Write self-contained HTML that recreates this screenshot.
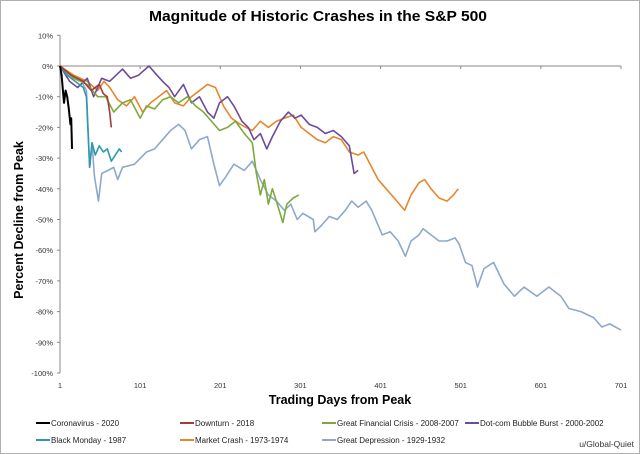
<!DOCTYPE html>
<html><head><meta charset="utf-8"><style>
body{margin:0;background:#fff;}
svg{display:block;font-family:"Liberation Sans",sans-serif;}
</style></head><body>
<svg id="c" width="640" height="454">
<rect x="0.5" y="0.5" width="639" height="453" fill="#fff" stroke="#b0b0b0"/>
<text x="318" y="21" text-anchor="middle" font-size="14.5" font-weight="bold" textLength="338" lengthAdjust="spacingAndGlyphs">Magnitude of Historic Crashes in the S&amp;P 500</text>
<text transform="translate(23,220) rotate(-90)" text-anchor="middle" font-size="12.5" font-weight="bold">Percent Decline from Peak</text>
<text x="340" y="404" text-anchor="middle" font-size="12.5" font-weight="bold">Trading Days from Peak</text>
<text x="634" y="447" text-anchor="end" font-size="8.5" fill="#333">u/Global-Quiet</text>
<g id="axes"></g><g id="series"></g><g id="legend"></g>
</svg>
<script>
const yTicks=[10,0,-10,-20,-30,-40,-50,-60,-70,-80,-90,-100];
const xTicks=[1,101,201,301,401,501,601,701];
const gdDays=[1,13,28,34,38,41,44,49,53,61,68,73,79,94,109,119,129,139,149,157,165,175,185,193,200,208,218,231,241,251,261,271,281,289,297,304,317,319,327,337,347,357,365,373,383,390,403,413,423,432,439,449,454,464,474,484,494,499,507,515,522,530,542,555,568,580,596,611,626,636,651,667,677,687,701];
const gdVals=[0,-3,-5,-8,-33,-25,-36,-44,-35,-34,-33,-37,-33,-32,-28,-27,-24,-21,-19,-21,-27,-24,-23,-32,-39,-36,-32,-34,-31,-37,-42,-44,-47,-45,-50,-48,-50,-54,-52,-49,-50,-47,-44,-46,-44,-47,-55,-54,-57,-62,-57,-55,-53,-55,-57,-57,-56,-58,-64,-65,-72,-66,-64,-71,-75,-72,-75,-72,-75,-79,-80,-82,-85,-84,-86];
const mcDays=[1,18,35,48,56,63,73,84,94,104,114,124,134,144,155,165,175,185,195,205,215,226,233,241,251,261,271,281,292,302,312,322,332,342,352,362,373,380,388,398,408,418,431,439,449,456,464,474,484,492,498];
const mcVals=[0,-3,-5,-8,-5,-7,-11,-13,-10,-15,-12,-10,-8,-12,-13,-10,-8,-6,-7,-13,-17,-19,-20,-21,-18,-20,-18,-17,-16,-20,-22,-24,-25,-23,-24,-28,-29,-28,-32,-37,-40,-43,-47,-42,-38,-37,-40,-43,-44,-42,-40];
const dcDays=[1,13,23,35,43,53,63,79,89,99,112,122,129,137,144,155,165,175,185,193,200,210,218,228,236,243,251,259,266,276,286,294,302,312,322,332,342,352,362,368,373];
const dcVals=[0,-5,-7,-4,-10,-4,-5,-1,-4,-3,0,-3,-5,-7,-10,-6,-12,-10,-15,-17,-12,-10,-13,-18,-20,-24,-22,-27,-23,-18,-15,-17,-16,-19,-20,-22,-21,-23,-26,-35,-34];
const gfcDays=[1,18,35,48,58,68,79,89,101,109,119,129,139,149,160,170,180,190,200,210,220,231,241,246,251,256,261,266,271,279,284,292,299];
const gfcVals=[0,-4,-6,-10,-10,-15,-12,-11,-17,-13,-14,-11,-10,-12,-10,-13,-15,-18,-21,-20,-18,-22,-25,-35,-42,-37,-45,-40,-44,-51,-45,-43,-42];
const bmDays=[1,10,20,30,34,38,41,45,50,55,60,65,70,75,78];
const bmVals=[0,-3,-5,-7,-10,-33,-25,-29,-26,-28,-27,-31,-29,-27,-28];
const dtDays=[1,15,30,40,50,55,60,63,65];
const dtVals=[0,-3,-5,-8,-6,-9,-10,-15,-20];
const cvDays=[1,3,6,8,10,12,14,15,16];
const cvVals=[0,-3,-12,-8,-10,-14,-19,-17,-27];
const NS='http://www.w3.org/2000/svg';
const xs=d=>60+(d-1)*(561/700);
const ys=v=>66-v*3.07;
const ax=document.getElementById('axes');
function mk(tag,at,parent){const e=document.createElementNS(NS,tag);for(const k in at)e.setAttribute(k,at[k]);parent.appendChild(e);return e;}
let yl=mk('line',{x1:60,y1:ys(10),x2:60,y2:ys(-100),stroke:'#888'},ax);


let xl=mk('line',{x1:60,y1:ys(0),x2:621,y2:ys(0),stroke:'#888'},ax);


yTicks.forEach(v=>{
  mk('line',{x1:57,y1:ys(v),x2:60,y2:ys(v),stroke:'#888'},ax);
  const t=mk('text',{x:53,y:ys(v)+3,'text-anchor':'end','font-size':'7.5',fill:'#333'},ax);
  t.textContent=v+'%';
  
  
});
xTicks.forEach(d=>{
  mk('line',{x1:xs(d),y1:ys(0),x2:xs(d),y2:ys(0)+3,stroke:'#888'},ax);
  const t=mk('text',{x:xs(d),y:388,'text-anchor':'middle','font-size':'7.5',fill:'#333'},ax);
  t.textContent=d;
  
  
});
const sg=document.getElementById('series');
function line(days,vals,color,name,w){
  const p=mk('polyline',{points:days.map((d,i)=>xs(d)+','+ys(vals[i])).join(' '),fill:'none',stroke:color,'stroke-width':w,'stroke-linejoin':'round'},sg);
  
  
}
line(gdDays,gdVals,'#8ea8cc','great-depression-line',1.6);
line(mcDays,mcVals,'#e8862e','market-crash-line',1.6);
line(dcDays,dcVals,'#6b4c9a','dotcom-line',1.6);
line(gfcDays,gfcVals,'#7eaa3c','gfc-line',1.6);
line(bmDays,bmVals,'#2e98ad','black-monday-line',1.6);
line(dtDays,dtVals,'#a23c38','downturn-line',1.6);
line(cvDays,cvVals,'#000','coronavirus-line',2);
const lg=document.getElementById('legend');
const items=[['Coronavirus - 2020','#000',36,426],['Downturn - 2018','#a23c38',180,426],['Great Financial Crisis - 2008-2007','#7eaa3c',322,426],['Dot-com Bubble Burst - 2000-2002','#6b4c9a',465,426],['Black Monday - 1987','#2e98ad',36,443],['Market Crash - 1973-1974','#e8862e',180,443],['Great Depression - 1929-1932','#8ea8cc',322,443]];
items.forEach(it=>{
  const g=mk('g',{},lg);
  
  
  mk('line',{x1:it[2],y1:it[3]-3,x2:it[2]+14,y2:it[3]-3,stroke:it[1],'stroke-width':2},g);
  const t=mk('text',{x:it[2]+15,y:it[3],'font-size':'8',fill:'#222'},g);
  t.textContent=it[0];
});
</script>
</body></html>
